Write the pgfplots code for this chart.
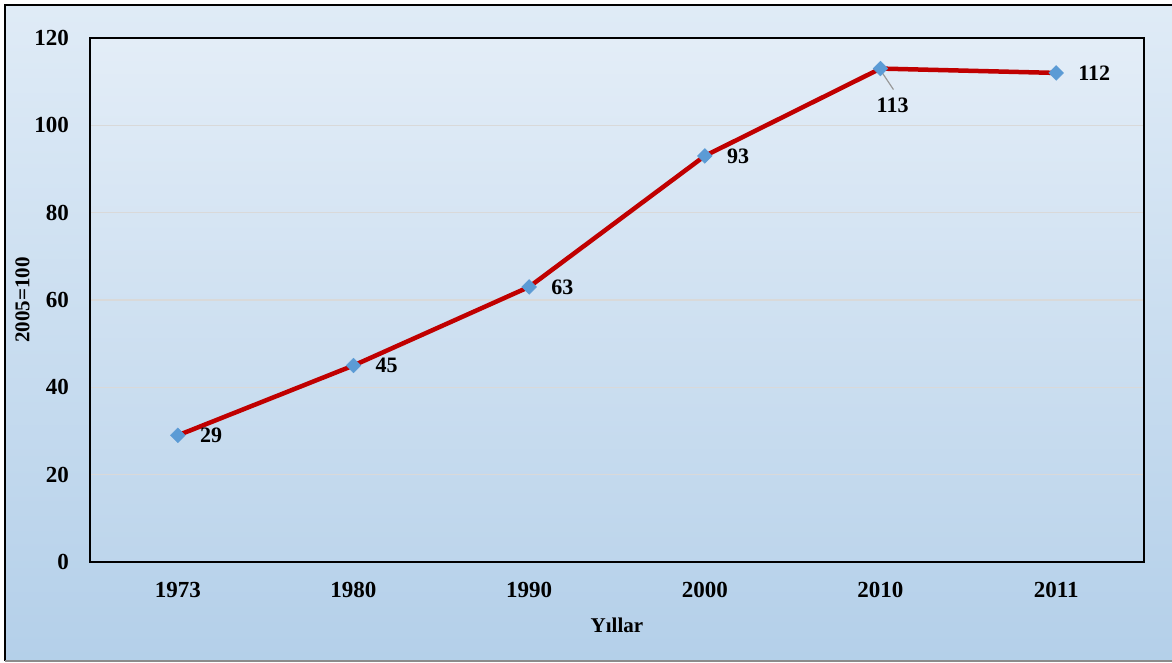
\documentclass[border=0pt]{standalone}
\usepackage{pgfplots}
\pgfplotsset{compat=1.18}
\usepackage{pgfplotstable}
\usepackage{fontspec}
\setmainfont{Liberation Serif}

\definecolor{linered}{HTML}{C00000}
\definecolor{markblue}{HTML}{5B9BD5}
\definecolor{gridgray}{HTML}{D9D9D9}
\definecolor{bgbottom}{RGB}{199,220,239}
\definecolor{bgmid}{RGB}{179,207,233}
\definecolor{bgtop}{RGB}{245,249,253}
\definecolor{pabottom}{RGB}{202,222,240}
\definecolor{pamid}{RGB}{184,210,234}
\definecolor{patop}{RGB}{246,249,253}

% chart area and plot area gradients (bottom -> top)
\pgfdeclareverticalshading{chartbg}{100bp}{%
  color(0bp)=(bgbottom); color(24bp)=(bgmid); color(100bp)=(bgtop)}
\pgfdeclareverticalshading{plotbg}{100bp}{%
  color(0bp)=(pabottom); color(18bp)=(pamid); color(100bp)=(patop)}

\pgfplotstableread{
x y dx dy
0 29 22 0
1 45 22 0
2 63 22 0
3 93 22 0
4 113 -4 -37
5 112 22 0
}\indexdata

\begin{document}
\begin{tikzpicture}[x=1pt,y=1pt]
\useasboundingbox (0,0) rectangle (1172,662);
\begin{scope}
  \clip (0,0) rectangle (1172,662);
  \shade[shading=chartbg] (5,1) rectangle (1180,657);
  \draw[black, line width=2pt] (1180,657) -- (5,657) -- (5,1);
  \draw[black!45, line width=2pt] (5,1) -- (1180,1);
\end{scope}
\shade[shading=plotbg] (90,100) rectangle (1144,624);
\begin{axis}[
  at={(90pt,100pt)}, anchor=south west,
  scale only axis, width=1054pt, height=524pt,
  xmin=-0.5, xmax=5.5, ymin=0, ymax=120,
  ytick={0,20,...,120},
  xtick={0,...,5},
  xticklabels={1973,1980,1990,2000,2010,2011},
  major x tick style={draw=none},
  extra x ticks={-0.5,0.5,1.5,2.5,3.5,4.5,5.5},
  extra x tick labels={},
  extra x tick style={grid=none, major tick length=7pt, tick align=outside,
    major tick style={draw=black, line width=1.5pt}},
  major y tick style={draw=none},
  ymajorgrids, y grid style={gridgray, line width=1.5pt},
  axis line style={black, line width=1.5pt},
  /pgf/number format/assume math mode=true,
  ticklabel style={font=\fontsize{23}{27}\selectfont\bfseries, inner sep=0pt},
  yticklabel style={anchor=east, xshift=-21pt},
  xticklabel style={anchor=north, yshift=-20pt},
  every axis y label/.style={at={(axis description cs:-0.0640,0.5)}, rotate=90,
    anchor=center, font=\fontsize{21}{25}\selectfont\bfseries},
  every axis x label/.style={at={(axis description cs:0.5,-0.1202)},
    anchor=center, font=\fontsize{21}{25}\selectfont\bfseries},
  ylabel={2005=100},
  xlabel={Yıllar},
  clip=false,
]
\addplot[linered, line width=4.5pt,
  mark=square*, mark size=5.2pt,
  mark options={markblue, draw=markblue, line width=0.5pt, rotate=45},
  nodes near coords,
  point meta=explicit symbolic,
  visualization depends on={\thisrow{dx} \as \dx},
  visualization depends on={\thisrow{dy} \as \dy},
  every node near coord/.style={anchor=west, inner sep=0pt,
    xshift=\dx pt, yshift=\dy pt, text=black,
    font=\fontsize{22}{26}\selectfont\bfseries},
] table[x=x, y=y, meta=y] {\indexdata};
\draw[black!40, line width=1.2pt] (axis cs:4,113) ++(1pt,-3pt) -- ++(12pt,-18pt);
\end{axis}
\end{tikzpicture}
\end{document}
